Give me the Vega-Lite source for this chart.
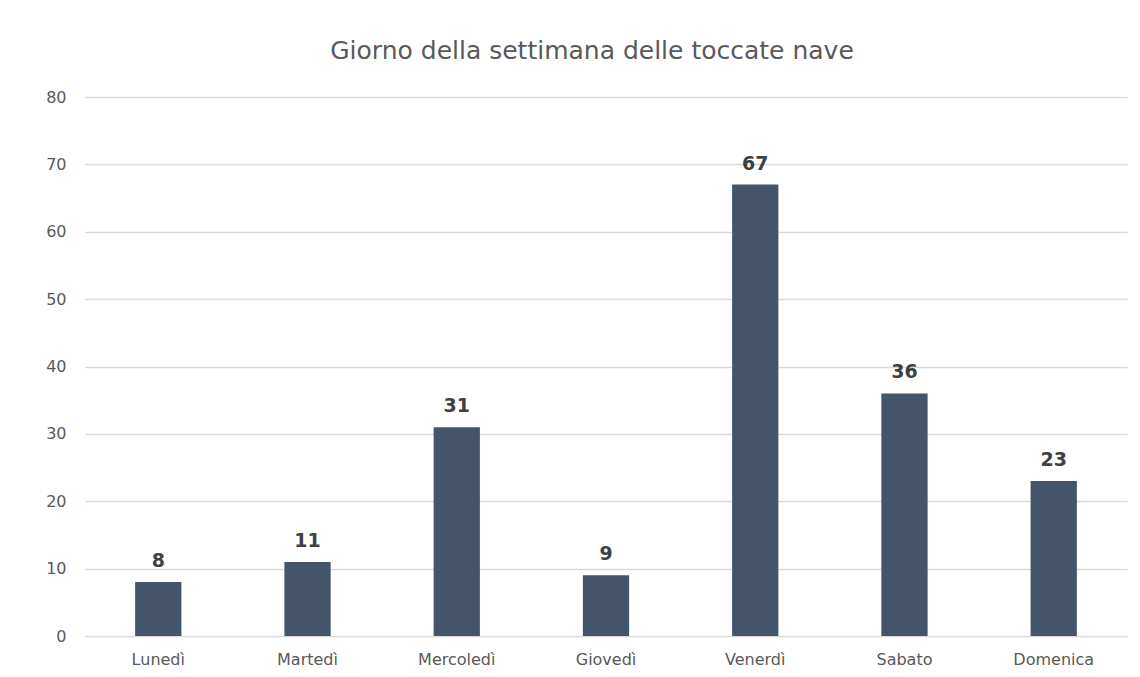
{
  "$schema": "https://vega.github.io/schema/vega-lite/v6.json",
  "autosize": "none",
  "width": 1042,
  "height": 539,
  "padding": {"left": 85, "top": 97, "right": 13, "bottom": 41},
  "background": "white",
  "title": {
    "text": "Giorno della settimana delle toccate nave",
    "font": "DejaVu Sans",
    "fontSize": 25,
    "fontWeight": "normal",
    "color": "#595959",
    "anchor": "middle",
    "dx": -14,
    "offset": 25
  },
  "config": {
    "view": {"stroke": null},
    "font": "DejaVu Sans"
  },
  "data": {
    "values": [
      {"giorno": "Lunedì", "n": 8},
      {"giorno": "Martedì", "n": 11},
      {"giorno": "Mercoledì", "n": 31},
      {"giorno": "Giovedì", "n": 9},
      {"giorno": "Venerdì", "n": 67},
      {"giorno": "Sabato", "n": 36},
      {"giorno": "Domenica", "n": 23}
    ]
  },
  "encoding": {
    "x": {
      "field": "giorno",
      "type": "nominal",
      "sort": null,
      "scale": {"paddingInner": 0.69, "paddingOuter": 0.336},
      "axis": {
        "title": null,
        "labelAngle": 0,
        "labelFont": "DejaVu Sans",
        "labelFontSize": 16,
        "labelColor": "#595959",
        "labelPadding": 15,
        "ticks": false,
        "domain": false,
        "grid": false
      }
    },
    "y": {
      "field": "n",
      "type": "quantitative",
      "scale": {"domain": [0, 80]},
      "axis": {
        "title": null,
        "values": [0, 10, 20, 30, 40, 50, 60, 70, 80],
        "labelFont": "DejaVu Sans",
        "labelFontSize": 16,
        "labelColor": "#595959",
        "labelPadding": 19,
        "ticks": false,
        "domain": false,
        "gridColor": "#d9d9d9",
        "gridWidth": 1.3
      }
    }
  },
  "layer": [
    {"mark": {"type": "bar", "color": "#44546A"}},
    {
      "mark": {
        "type": "text",
        "baseline": "alphabetic",
        "dy": -15,
        "font": "DejaVu Sans",
        "fontSize": 19,
        "fontWeight": "bold",
        "color": "#404040"
      },
      "encoding": {"text": {"field": "n", "type": "quantitative"}}
    }
  ]
}
